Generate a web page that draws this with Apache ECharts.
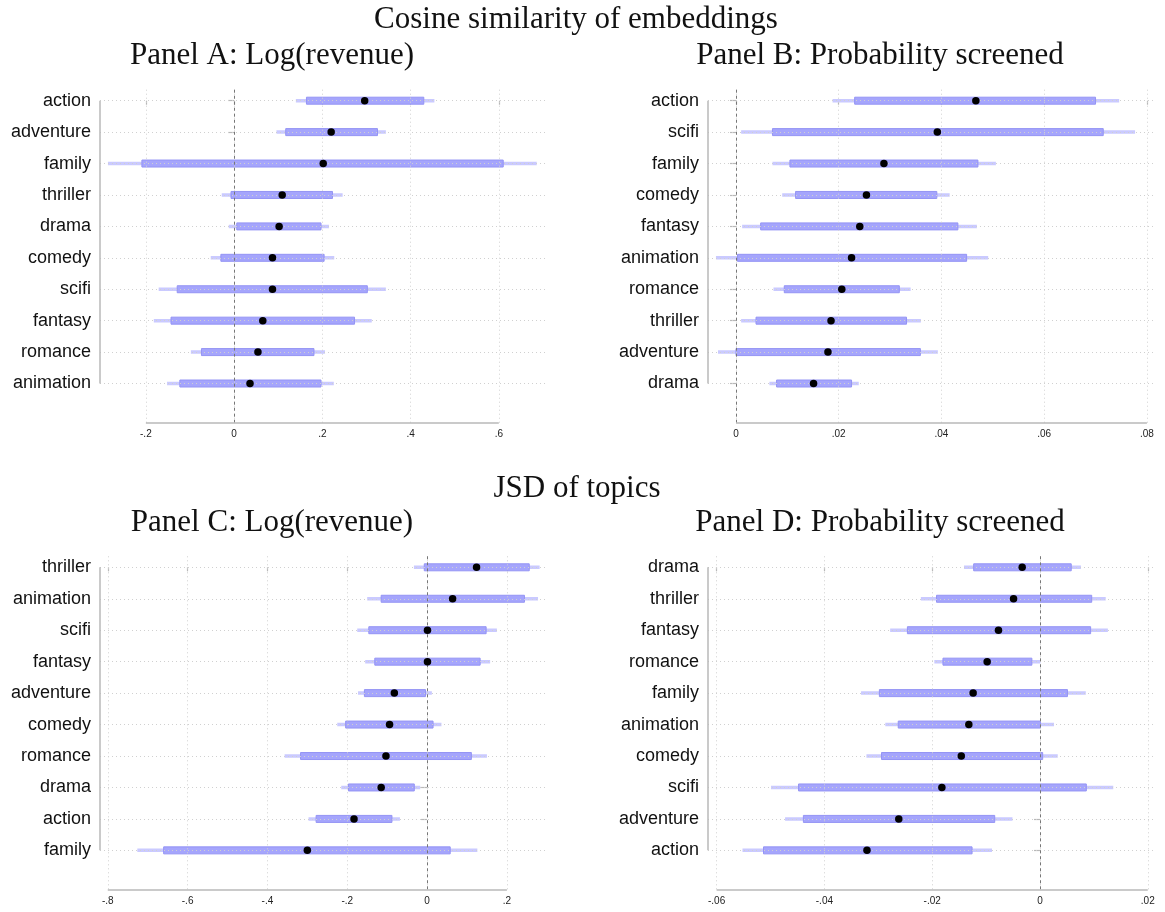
<!DOCTYPE html>
<html><head><meta charset="utf-8">
<script src="https://cdn.jsdelivr.net/npm/echarts@6/dist/echarts.min.js"></script>
<style>html,body{margin:0;padding:0;background:#fff}#c{width:1165px;height:912px}</style>
</head><body><div id="c"></div>
<script>
// ---------- titles ----------
const superTitleTop = "Cosine similarity of embeddings";
const superTitleBottom = "JSD of topics";
const panelTitles = ["Panel A: Log(revenue)", "Panel B: Probability screened", "Panel C: Log(revenue)", "Panel D: Probability screened"];

// ---------- Panel A ----------
const catsA = ["action","adventure","family","thriller","drama","comedy","scifi","fantasy","romance","animation"];
const estA = [0.296,0.220,0.202,0.109,0.102,0.087,0.087,0.065,0.054,0.036];
const innerLoA = [0.164,0.117,-0.209,-0.007,0.006,-0.030,-0.129,-0.143,-0.074,-0.123];
const innerHiA = [0.430,0.325,0.610,0.223,0.197,0.204,0.302,0.273,0.181,0.197];
const outerLoA = [0.140,0.096,-0.286,-0.028,-0.012,-0.053,-0.171,-0.182,-0.098,-0.152];
const outerHiA = [0.454,0.344,0.686,0.246,0.215,0.227,0.344,0.312,0.206,0.226];
const ticksA = [-0.2,0,0.2,0.4,0.6];

// ---------- Panel B ----------
const catsB = ["action","scifi","family","comedy","fantasy","animation","romance","thriller","adventure","drama"];
const estB = [0.0467,0.0392,0.0288,0.0254,0.0241,0.0225,0.0206,0.0185,0.0179,0.0151];
const innerLoB = [0.0231,0.0071,0.0105,0.0116,0.0048,0.0003,0.0094,0.0039,0.0000,0.0079];
const innerHiB = [0.0700,0.0715,0.0471,0.0391,0.0432,0.0449,0.0318,0.0332,0.0359,0.0225];
const outerLoB = [0.0188,0.0010,0.0071,0.0090,0.0012,-0.0039,0.0073,0.0010,-0.0035,0.0065];
const outerHiB = [0.0746,0.0777,0.0506,0.0416,0.0469,0.0491,0.0340,0.0360,0.0393,0.0239];
const ticksB = [0,0.02,0.04,0.06,0.08];

// ---------- Panel C ----------
const catsC = ["thriller","animation","scifi","fantasy","adventure","comedy","romance","drama","action","family"];
const estC = [0.124,0.064,0.001,0.001,-0.082,-0.094,-0.103,-0.115,-0.183,-0.300];
const innerLoC = [-0.007,-0.115,-0.146,-0.131,-0.157,-0.204,-0.317,-0.197,-0.278,-0.660];
const innerHiC = [0.256,0.244,0.148,0.133,-0.004,0.015,0.111,-0.032,-0.088,0.058];
const outerLoC = [-0.033,-0.150,-0.175,-0.155,-0.173,-0.225,-0.357,-0.215,-0.297,-0.726];
const outerHiC = [0.282,0.278,0.175,0.158,0.012,0.036,0.150,-0.017,-0.068,0.126];
const ticksC = [-0.8,-0.6,-0.4,-0.2,0,0.2];

// ---------- Panel D ----------
const catsD = ["drama","thriller","fantasy","romance","family","animation","comedy","scifi","adventure","action"];
const estD = [-0.0033,-0.0049,-0.0077,-0.0098,-0.0124,-0.0132,-0.0146,-0.0182,-0.0262,-0.0321];
const innerLoD = [-0.0123,-0.0192,-0.0246,-0.0180,-0.0298,-0.0263,-0.0294,-0.0448,-0.0439,-0.0513];
const innerHiD = [0.0058,0.0096,0.0094,-0.0015,0.0051,0.0001,0.0005,0.0086,-0.0084,-0.0126];
const outerLoD = [-0.0141,-0.0221,-0.0278,-0.0196,-0.0332,-0.0287,-0.0322,-0.0499,-0.0473,-0.0552];
const outerHiD = [0.0076,0.0122,0.0126,0.0001,0.0085,0.0026,0.0033,0.0136,-0.0051,-0.0089];
const ticksD = [-0.06,-0.04,-0.02,0,0.02];

// ---------- layout / style ----------
const panels = [
  {cats:catsA, est:estA, iLo:innerLoA, iHi:innerHiA, oLo:outerLoA, oHi:outerHiA, ticks:ticksA,
   grid:{left:100, top:89.7, width:446, height:333.4}, xMin:-0.304, xMax:0.707},
  {cats:catsB, est:estB, iLo:innerLoB, iHi:innerHiB, oLo:outerLoB, oHi:outerHiB, ticks:ticksB,
   grid:{left:708, top:89.7, width:446.6, height:333.4}, xMin:-0.00545, xMax:0.0815},
  {cats:catsC, est:estC, iLo:innerLoC, iHi:innerHiC, oLo:outerLoC, oHi:outerHiC, ticks:ticksC,
   grid:{left:100, top:556.3, width:446, height:333.7}, xMin:-0.8195, xMax:0.298},
  {cats:catsD, est:estD, iLo:innerLoD, iHi:innerHiD, oLo:outerLoD, oHi:outerHiD, ticks:ticksD,
   grid:{left:708, top:556.3, width:446.6, height:333.7}, xMin:-0.0616, xMax:0.02127}
];
const yMin = -0.35, yMax = 10.26;
const axisGray = '#b8b8b8';
const gridGray = '#d0d0d0';
const outerColor = 'rgb(202,202,255)';
const innerFill = 'rgb(165,165,252)';
const innerStroke = 'rgb(148,148,244)';

function fmtTick(v){
  if (Math.abs(v) < 1e-12) return '0';
  const s = String(+v.toFixed(6));
  return s.replace(/^(-?)0\./, '$1.');
}

const grids = [], xAxes = [], yAxes = [], series = [];
panels.forEach((p, k) => {
  grids.push(Object.assign({containLabel:false}, p.grid));
  xAxes.push({
    type:'value', gridIndex:k, min:p.xMin, max:p.xMax,
    axisLine:{show:false},
    splitLine:{show:false},
    axisTick:{show:true, length:4, customValues:p.ticks, lineStyle:{color:axisGray, width:1.2}},
    axisLabel:{show:true, customValues:p.ticks, formatter:fmtTick, fontFamily:'Liberation Sans, Arial, sans-serif', fontSize:10, color:'#222', margin:6}
  });
  yAxes.push({
    type:'value', gridIndex:k, min:yMin, max:yMax, inverse:true,
    axisLine:{show:false},
    splitLine:{show:false},
    axisTick:{show:true, length:6, customValues:p.cats.map((c,i)=>i), lineStyle:{color:axisGray, width:1.2}},
    axisLabel:{show:true, customValues:p.cats.map((c,i)=>i), formatter:(v)=>p.cats[Math.round(v)] || '',
      fontFamily:'Liberation Sans, Arial, sans-serif', fontSize:18, color:'#111', margin:9}
  });

  const axisLS = {color:axisGray, type:'solid', width:1.5};
  // gridlines
  series.push({
    type:'scatter', xAxisIndex:k, yAxisIndex:k, z:1, silent:true, symbolSize:0,
    data:p.est.map((v,i)=>[v,i]),
    markLine:{
      silent:true, symbol:'none', animation:false, label:{show:false},
      data:[].concat(
        p.ticks.map(t=>({xAxis:t, lineStyle:{color:gridGray, type:[1,3], width:1}})),
        p.cats.map((c,i)=>({yAxis:i, lineStyle:{color:gridGray, type:[1,3], width:1}}))
      )
    }
  });
  // zero reference line and axis lines
  series.push({
    type:'scatter', xAxisIndex:k, yAxisIndex:k, z:2, silent:true, symbolSize:0,
    data:p.est.map((v,i)=>[v,i]),
    markLine:{
      silent:true, symbol:'none', animation:false, label:{show:false},
      data:[
        {xAxis:0, lineStyle:{color:'#777', type:[3,3], width:1}},
        [{coord:[p.ticks[0], yMax], lineStyle:axisLS}, {coord:[p.ticks[p.ticks.length-1], yMax], lineStyle:axisLS}],
        [{coord:[p.xMin, 0], lineStyle:axisLS}, {coord:[p.xMin, p.cats.length-1], lineStyle:axisLS}]
      ]
    }
  });
  // outer interval
  series.push({
    type:'custom', xAxisIndex:k, yAxisIndex:k, z:3, silent:true,
    encode:{x:[0,1], y:2},
    data:p.oLo.map((v,i)=>[v, p.oHi[i], i]),
    renderItem:(params, api)=>{
      const a = api.coord([api.value(0), api.value(2)]);
      const b = api.coord([api.value(1), api.value(2)]);
      return {type:'line', shape:{x1:a[0], y1:a[1], x2:b[0], y2:b[1]}, style:{stroke:outerColor, lineWidth:3.5}};
    }
  });
  // inner interval
  series.push({
    type:'custom', xAxisIndex:k, yAxisIndex:k, z:4, silent:true,
    encode:{x:[0,1], y:2},
    data:p.iLo.map((v,i)=>[v, p.iHi[i], i]),
    renderItem:(params, api)=>{
      const a = api.coord([api.value(0), api.value(2)]);
      const b = api.coord([api.value(1), api.value(2)]);
      const h = 7;
      return {type:'rect', shape:{x:a[0], y:a[1]-h/2, width:b[0]-a[0], height:h}, style:{fill:innerFill, stroke:innerStroke, lineWidth:1}};
    }
  });
  // point estimates
  series.push({
    type:'scatter', xAxisIndex:k, yAxisIndex:k, z:5, silent:true,
    symbol:'circle', symbolSize:7.5, itemStyle:{color:'#000', opacity:1},
    data:p.est.map((v,i)=>[v,i])
  });
});

const serif = 'Liberation Serif, "DejaVu Serif", serif';
const titleStyle = (txt, x, y) => ({type:'text', x:x, y:y, silent:true,
  style:{text:txt, font:'31px ' + serif, fill:'#111', textAlign:'center', textVerticalAlign:'middle'}});

const chart = echarts.init(document.getElementById('c'), null, {renderer:'canvas'});
chart.setOption({
  animation:false,
  backgroundColor:'#fff',
  grid:grids, xAxis:xAxes, yAxis:yAxes, series:series,
  graphic:[
    titleStyle(superTitleTop, 576, 20),
    titleStyle(panelTitles[0], 272, 56),
    titleStyle(panelTitles[1], 880, 56),
    titleStyle(superTitleBottom, 577, 489),
    titleStyle(panelTitles[2], 272, 523),
    titleStyle(panelTitles[3], 880, 523)
  ]
});
</script>
</body></html>
